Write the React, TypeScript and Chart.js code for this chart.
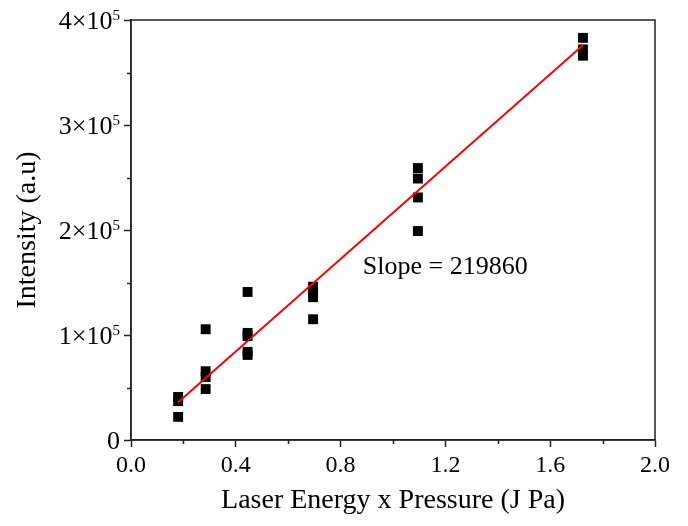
import React, { useEffect, useRef } from "react";
import { Chart, registerables } from "chart.js";

Chart.register(...registerables);

// Data
const energyPressure = [
  0.18, 0.18, 0.18,
  0.285, 0.285, 0.285, 0.285,
  0.445, 0.445, 0.445, 0.445, 0.445,
  0.695, 0.695, 0.695, 0.695,
  1.095, 1.095, 1.095, 1.095,
  1.725, 1.725, 1.725,
];
const intensity = [
  41000, 37000, 22000,
  105500, 65500, 60000, 48500,
  141000, 102000, 99000, 84000, 81000,
  146000, 140500, 136000, 115000,
  259000, 249000, 231000, 199000,
  383000, 372000, 366000,
];
const fitX = [0.18, 1.725];
const fitY = [36000, 376000];
const slopeLabel = "Slope = 219860";
const slopeLabelPos = { x: 0.885, y: 165000 };

const xTitle = "Laser Energy x Pressure (J Pa)";
const yTitle = "Intensity (a.u)";
// y tick labels
const yTickValues = [0, 100000, 200000, 300000, 400000];
const yTickMantissa = ["0", "1×10", "2×10", "3×10", "4×10"];
const yTickExponent = ["", "5", "5", "5", "5"];
const xMinorTicks = [0.2, 0.6, 1.0, 1.4, 1.8];
const yMinorTicks = [50000, 150000, 250000, 350000];

const FONT = "'Liberation Serif', 'Times New Roman', serif";
const AXIS = "#222";

export default function App() {
  const ref = useRef<HTMLCanvasElement | null>(null);

  useEffect(() => {
    if (!ref.current) return;
    const framePlugin = {
      id: "frame",
      afterDatasetsDraw(chart: any) {
        const { ctx, chartArea } = chart;
        const xs = chart.scales.x;
        const ys = chart.scales.y;
        ctx.save();
        ctx.strokeStyle = AXIS;
        ctx.lineWidth = 1.5;
        ctx.strokeRect(
          chartArea.left,
          chartArea.top,
          chartArea.right - chartArea.left,
          chartArea.bottom - chartArea.top
        );
        // minor ticks (shorter)
        ctx.beginPath();
        xMinorTicks.forEach((v) => {
          const px = Math.round(xs.getPixelForValue(v)) + 0.5;
          ctx.moveTo(px, chartArea.bottom);
          ctx.lineTo(px, chartArea.bottom + 4);
        });
        yMinorTicks.forEach((v) => {
          const py = Math.round(ys.getPixelForValue(v)) + 0.5;
          ctx.moveTo(chartArea.left, py);
          ctx.lineTo(chartArea.left - 4, py);
        });
        ctx.stroke();

        ctx.fillStyle = "#000";
        ctx.font = `26px ${FONT}`;
        ctx.textAlign = "left";
        ctx.textBaseline = "middle";
        ctx.fillText(
          slopeLabel,
          xs.getPixelForValue(slopeLabelPos.x),
          ys.getPixelForValue(slopeLabelPos.y)
        );

        // y tick labels with real superscripts
        const right = chartArea.left - 11;
        ctx.textBaseline = "alphabetic";
        ctx.textAlign = "left";
        yTickValues.forEach((v, i) => {
          const py = ys.getPixelForValue(v);
          const base = py + 9;
          ctx.font = `15px ${FONT}`;
          const ew = yTickExponent[i] ? ctx.measureText(yTickExponent[i]).width : 0;
          ctx.font = `26px ${FONT}`;
          const mw = ctx.measureText(yTickMantissa[i]).width;
          const start = right - ew - mw;
          ctx.fillText(yTickMantissa[i], start, base);
          if (yTickExponent[i]) {
            ctx.font = `15px ${FONT}`;
            ctx.fillText(yTickExponent[i], start + mw, base - 9);
          }
        });
        ctx.restore();
      },
    };

    const majorOnlyX = (c: any) => {
      const n = Math.round(Number(c.tick?.value) * 10);
      return n % 4 === 0 ? AXIS : "rgba(0,0,0,0)";
    };
    const majorOnlyY = (c: any) => {
      const n = Math.round(Number(c.tick?.value));
      return n % 100000 === 0 ? AXIS : "rgba(0,0,0,0)";
    };

    const chart = new Chart(ref.current, {
      type: "scatter",
      data: {
        datasets: [
          {
            type: "line",
            label: "fit",
            data: fitX.map((x, i) => ({ x, y: fitY[i] })),
            borderColor: "#ff0000",
            borderWidth: 2,
            pointRadius: 0,
            fill: false,
            order: 0,
          } as any,
          {
            label: "data",
            data: energyPressure.map((x, i) => ({ x, y: intensity[i] })),
            pointStyle: "rect",
            pointRadius: 7,
            pointBorderWidth: 0,
            backgroundColor: "#000",
            borderColor: "#000",
            order: 1,
          },
        ],
      },
      options: {
        animation: false,
        responsive: true,
        maintainAspectRatio: false,
        layout: { padding: { left: 0, top: 20, right: 33, bottom: 0 } },
        plugins: { legend: { display: false }, tooltip: { enabled: false } },
        scales: {
          x: {
            type: "linear",
            min: 0,
            max: 2,
            afterFit: (s: any) => {
              s.height = 86;
            },
            border: { display: true, color: AXIS, width: 1.5 },
            grid: {
              drawOnChartArea: false,
              drawTicks: true,
              tickLength: 7,
              tickColor: majorOnlyX,
              tickWidth: 1.5,
            },
            ticks: {
              stepSize: 0.2,
              autoSkip: false,
              maxRotation: 0,
              color: "#000",
              padding: 4,
              font: { family: FONT, size: 24 },
              callback: (v: any) => {
                const n = Math.round(Number(v) * 10);
                return n % 4 === 0 ? (n / 10).toFixed(1) : "";
              },
            },
            title: {
              display: true,
              text: xTitle,
              color: "#000",
              font: { family: FONT, size: 28 },
              padding: { top: 0, bottom: 9 },
            },
          },
          y: {
            type: "linear",
            min: 0,
            max: 400000,
            afterFit: (s: any) => {
              s.width = 131;
            },
            border: { display: true, color: AXIS, width: 1.5 },
            grid: {
              drawOnChartArea: false,
              drawTicks: true,
              tickLength: 7,
              tickColor: majorOnlyY,
              tickWidth: 1.5,
            },
            ticks: {
              stepSize: 50000,
              autoSkip: false,
              display: false,
            },
            title: {
              display: true,
              text: yTitle,
              color: "#000",
              font: { family: FONT, size: 28 },
              padding: { top: 11, bottom: 0 },
            },
          },
        },
      },
      plugins: [framePlugin],
    });
    return () => chart.destroy();
  }, []);

  return (
    <div style={{ position: "absolute", left: 0, top: 0, width: 688, height: 526, background: "#fff" }}>
      <canvas ref={ref} />
    </div>
  );
}
